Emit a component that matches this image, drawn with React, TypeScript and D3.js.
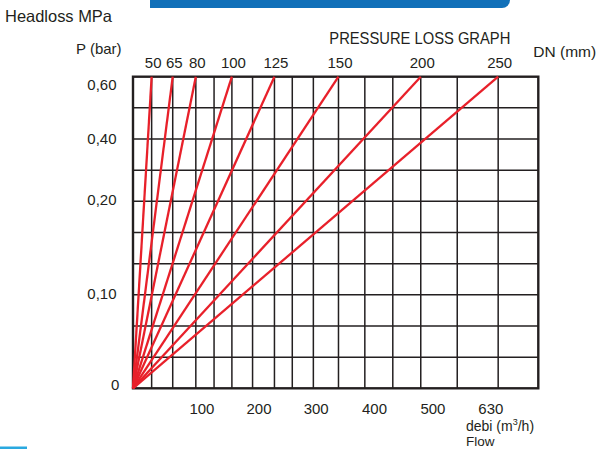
import React from "react";
import * as d3 from "d3";

// ---- data ----
const dnSizes = [50, 65, 80, 100, 125, 150, 200, 250];
// top end of each DN line, in percent of the plot width
const dnTopPct = [4.6, 9.8, 15.5, 24.4, 34.9, 50.7, 71.0, 90.1];
// vertical grid lines, percent of plot width
const vGridPct = [0, 4.6, 9.8, 15.5, 20.0, 24.4, 29.5, 34.9, 39.3, 44.5, 50.7, 57.2, 64.1, 71.0, 80.0, 90.1, 100];
// horizontal grid lines (grid units)
const hGrid = d3.range(0, 11);
const pLabels = ["0", "0,10", "0,20", "0,40", "0,60"];
const pLabelPos = [0.1, 3.05, 6.05, 8.0, 9.75];
const flowLabels = ["100", "200", "300", "400", "500", "630"];
const flowLabelPct = [17.0, 31.1, 45.2, 59.6, 74.0, 88.3];

const W = 598;
const H = 449;
const FONT = "'Liberation Sans', Arial, sans-serif";
const INK = "#231F20";

export default function App() {
  const x = d3.scaleLinear().domain([0, 100]).range([133, 538.3]);
  const y = d3.scaleLinear().domain([0, 10]).range([388.3, 76.7]);
  const line = d3.line<[number, number]>().x((d) => x(d[0])).y((d) => y(d[1]));

  return (
    <svg
      width={W}
      height={H}
      style={{ position: "absolute", left: 0, top: 0, background: "#fff" }}
      fontFamily={FONT}
    >
      <rect width={W} height={H} fill="#fff" />
      {/* top banner */}
      <path d="M150,-10 H510 V0 A8,8 0 0 1 502,8 H150 Z" fill="#1170B9" />
      {/* bottom-left accent */}
      <rect x={0} y={446.5} width={27} height={3} fill="#2AA9E0" />

      {/* grid */}
      {vGridPct.slice(1, -1).map((v, i) => (
        <line key={"v" + i} x1={x(v)} x2={x(v)} y1={y(0)} y2={y(10)} stroke={INK} strokeWidth={1.5} />
      ))}
      {hGrid.slice(1, -1).map((v, i) => (
        <line key={"h" + i} x1={x(0)} x2={x(100)} y1={y(v)} y2={y(v)} stroke={INK} strokeWidth={1.5} />
      ))}
      <rect
        x={x(0)}
        y={y(10)}
        width={x(100) - x(0)}
        height={y(0) - y(10)}
        fill="none"
        stroke={INK}
        strokeWidth={2.4}
      />

      {/* DN lines */}
      {dnTopPct.map((p, i) => (
        <path
          key={"dn" + i}
          d={line([[0, 0], [p, 10]]) || ""}
          stroke="#E8202A"
          strokeWidth={2.3}
          fill="none"
        />
      ))}

      {/* DN labels */}
      {dnSizes.map((d, i) => (
        <text key={"dl" + i} x={x(dnTopPct[i]) + 1.5} y={68.3} fontSize={15} textAnchor="middle" fill={INK}>
          {d}
        </text>
      ))}

      {/* pressure labels */}
      {pLabels.map((t, i) =>
        t === "0" ? (
          <text key={"pl" + i} x={119.3} y={y(pLabelPos[i]) + 5.3} fontSize={15} textAnchor="end" fill={INK}>
            {t}
          </text>
        ) : (
          <text key={"pl" + i} x={87.3} y={y(pLabelPos[i]) + 5.3} fontSize={15} fill={INK}>
            {t}
          </text>
        )
      )}

      {/* flow labels */}
      {flowLabels.map((t, i) => (
        <text key={"fl" + i} x={x(flowLabelPct[i])} y={414} fontSize={15} textAnchor="middle" fill={INK}>
          {t}
        </text>
      ))}

      {/* titles */}
      <text x={5} y={22} fontSize={16.5} textLength={107} lengthAdjust="spacingAndGlyphs" fill={INK}>
        Headloss MPa
      </text>
      <text x={76} y={54} fontSize={15} fill={INK}>
        P (bar)
      </text>
      <text x={329.3} y={44} fontSize={16.5} textLength={181} lengthAdjust="spacingAndGlyphs" fill={INK}>
        PRESSURE LOSS GRAPH
      </text>
      <text x={533.3} y={57} fontSize={15.5} fill={INK}>
        DN (mm)
      </text>
      <text x={466} y={431} fontSize={14} fill={INK}>
        debi (m
        <tspan fontSize={9} dy={-6}>3</tspan>
        <tspan dy={6}>/h)</tspan>
      </text>
      <text x={466} y={445.5} fontSize={13.5} fill={INK}>
        Flow
      </text>
    </svg>
  );
}
